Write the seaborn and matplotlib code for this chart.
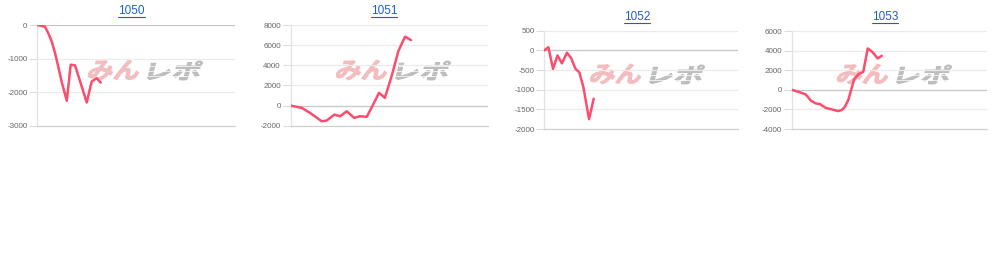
import matplotlib
matplotlib.use("Agg")
import matplotlib.pyplot as plt
import seaborn as sns
import pandas as pd
import numpy as np
from matplotlib.textpath import TextPath
from matplotlib.font_manager import FontProperties
from matplotlib.patches import PathPatch
from matplotlib.transforms import Affine2D
from matplotlib.lines import Line2D

# ---------------- data ----------------
titles = ["1050", "1051", "1052", "1053"]

x_1050 = [0, 3.9, 5.6, 7.3, 9.0, 10.6, 12.3, 14.9, 16.9, 19.1, 25.0, 27.5, 30.0, 32.1]
y_1050 = [0, -50, -250, -490, -840, -1235, -1680, -2250, -1180, -1200, -2300, -1680, -1580, -1710]

x_1051 = [0, 5.7, 9.9, 15.8, 18.3, 22.2, 25.1, 28.5, 32.2, 35.2, 38.6, 41.4, 44.8, 47.8, 51.2, 54.6, 58.0, 61.0]
y_1051 = [0, -230, -730, -1560, -1490, -900, -1060, -570, -1220, -1060, -1120, -70, 1260, 770, 2920, 5400, 6840, 6500]

x_1052 = [0, 2.1, 4.5, 6.8, 9.1, 11.7, 13.9, 16.1, 18.1, 20.2, 23.1, 25.5]
y_1052 = [0, 80, -470, -130, -330, -60, -200, -470, -560, -940, -1750, -1230]

x_1053 = [0, 3.4, 7.2, 9.9, 12.3, 14.5, 17.4, 20.5, 23.9, 25.6, 27.3, 29.0, 32.0, 34.2, 36.7, 39.0, 41.3, 44.1, 46.2]
y_1053 = [0, -200, -470, -1120, -1390, -1460, -1840, -2000, -2170, -2070, -1730, -1050, 1060, 1570, 1840, 4220, 3880, 3200, 3470]

yticks_1050 = [0, -1000, -2000, -3000]
yticks_1051 = [-2000, 0, 2000, 4000, 6000, 8000]
yticks_1052 = [-2000, -1500, -1000, -500, 0, 500]
yticks_1053 = [-4000, -2000, 0, 2000, 4000, 6000]

series_x = [x_1050, x_1051, x_1052, x_1053]
series_y = [y_1050, y_1051, y_1052, y_1053]
series_ticks = [yticks_1050, yticks_1051, yticks_1052, yticks_1053]

# ---------------- layout (pixels, top-left origin) ----------------
W, H = 1000, 274
axes_px = [  # left, right, top, bottom
    (37.3, 235.0, 25.0, 126.0),
    (290.5, 488.0, 25.0, 125.7),
    (544.3, 738.0, 30.7, 129.0),
    (791.7, 986.7, 31.0, 129.0),
]
title_px = [(131.7, 10.5), (384.0, 10.5), (637.0, 16.5), (885.0, 16.5)]
wm_px = [(86, 59), (334, 59), (588, 63), (835, 63)]  # left, top of watermark

LINE = "#fb4d6d"
GRID = "#ebebeb"
ZERO = "#c6c6c6"
TICKC = "#666666"

sns.set_style("white")
plt.rcParams["font.family"] = ["Liberation Sans", "DejaVu Sans"]
plt.rcParams["axes.unicode_minus"] = False

fig = plt.figure(figsize=(W / 100, H / 100), dpi=100, facecolor="white")

# watermark "みんレポ"
fp = FontProperties(family="Noto Sans CJK JP", weight="bold")


def add_wm(text, color, x0, y0, w, h, skew=14):
    tp = TextPath((0, 0), text, size=100, prop=fp)
    ext = tp.get_extents()
    wpre = w - h * np.tan(np.radians(skew))
    tr = (Affine2D().translate(-ext.x0, -ext.y0)
          .scale(wpre / ext.width, h / ext.height)
          .skew_deg(skew, 0)
          .translate(x0, H - y0 - h))
    p = PathPatch(tp, transform=tr, fc=color, ec=color, lw=0.7,
                  joinstyle="round", zorder=-5)
    fig.add_artist(p)


for (wx, wy) in wm_px:
    add_wm("みん", "#f3bcbe", wx + 1, wy + 1, 55, 20)
    add_wm("レポ", "#bdbdbd", wx + 61, wy + 2, 56, 19)
    # speed lines on レポ
    for k in range(3):
        yy = H - (wy + 7 + k * 5)
        fig.add_artist(Line2D([wx + 58, wx + 122], [yy, yy], transform=None,
                              color="white", lw=0.5, zorder=-4))

for i in range(4):
    l, r, t, b = axes_px[i]
    ax = fig.add_axes([l / W, (H - b) / H, (r - l) / W, (b - t) / H])
    ax.set_facecolor("none")
    df = pd.DataFrame({"x": series_x[i], "y": series_y[i]})
    sns.lineplot(data=df, x="x", y="y", ax=ax, color=LINE, linewidth=1.8,
                 estimator=None, sort=False, zorder=5)
    ticks = series_ticks[i]
    ax.set_xlim(0, 100)
    ax.set_ylim(min(ticks), max(ticks))
    ax.set_yticks(ticks)
    ax.set_yticklabels([str(v) for v in ticks])
    ax.set_xticks([])
    ax.set_xlabel("")
    ax.set_ylabel("")
    for v in ticks:
        ax.axhline(v, color=(ZERO if v == 0 else GRID), lw=0.9, zorder=1)
    for s in ["top", "right"]:
        ax.spines[s].set_visible(False)
    ax.spines["left"].set_color("#e2e2e2")
    ax.spines["left"].set_linewidth(0.9)
    ax.spines["bottom"].set_color("#d0d0d0")
    ax.spines["bottom"].set_linewidth(0.9)
    ax.tick_params(axis="y", length=6, width=0.8, color="#dcdcdc", pad=1,
                   labelsize=5.8, labelcolor=TICKC, left=True)

renderer = fig.canvas.get_renderer()
for i in range(4):
    cx, cy = title_px[i]
    t = fig.text(cx / W, 1 - cy / H, titles[i], ha="center", va="center",
                 fontsize=8.5, color="#1a5fc8", family=["Liberation Sans", "DejaVu Sans"])
    bb = t.get_window_extent(renderer)
    uy = bb.y0 - 0.5
    fig.add_artist(Line2D([bb.x0, bb.x1], [uy, uy], transform=None,
                          color="#1a5fc8", lw=0.8))

fig.savefig("out.png", dpi=100, facecolor="white")
